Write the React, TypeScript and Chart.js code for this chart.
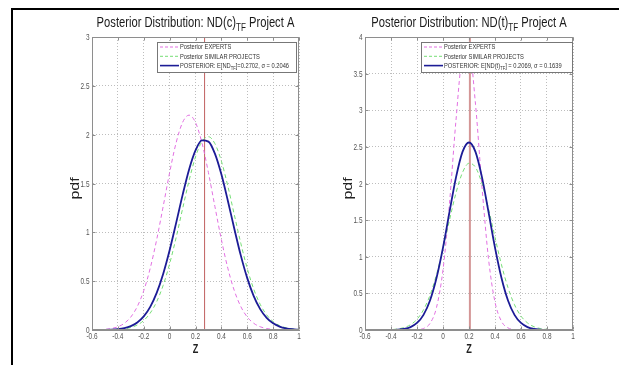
import React, { useEffect, useRef } from "react";
import { Chart, registerables } from "chart.js";

Chart.register(...registerables);

// ---------------- data ----------------
const zGrid = [
  -0.6, -0.55, -0.5, -0.45, -0.4, -0.35, -0.3, -0.25, -0.2, -0.15, -0.1, -0.05, 0,
  0.05, 0.1, 0.15, 0.2, 0.25, 0.3, 0.35, 0.4, 0.45, 0.5, 0.55, 0.6, 0.65, 0.7,
  0.75, 0.8, 0.85, 0.9, 0.95, 1.0,
];

// Panel 1: ND(c)TF
const ndcExperts = [
  0.0009, 0.0025, 0.0063, 0.015, 0.033, 0.069, 0.133, 0.24, 0.403, 0.632, 0.926,
  1.264, 1.611, 1.916, 2.125, 2.2, 2.125, 1.916, 1.611, 1.264, 0.926, 0.632, 0.403,
  0.24, 0.133, 0.069, 0.033, 0.015, 0.0063, 0.0025, 0.0009, 0.0003, 0.0001,
];
const ndcSimilar = [
  0.0001, 0.0003, 0.0008, 0.0021, 0.0052, 0.0118, 0.0253, 0.051, 0.097, 0.173, 0.29,
  0.457, 0.678, 0.945, 1.24, 1.528, 1.772, 1.931, 1.979, 1.908, 1.729, 1.473, 1.18,
  0.889, 0.63, 0.419, 0.263, 0.155, 0.086, 0.045, 0.022, 0.01, 0.0044,
];
const ndcPosterior = [
  0.0002, 0.0006, 0.0016, 0.004, 0.0091, 0.0198, 0.0402, 0.0771, 0.139, 0.237, 0.38,
  0.574, 0.816, 1.094, 1.381, 1.642, 1.839, 1.941, 1.929, 1.806, 1.594, 1.324, 1.037,
  0.764, 0.531, 0.347, 0.214, 0.124, 0.068, 0.035, 0.017, 0.0078, 0.0034,
];
const ndcMean = 0.2702;
const ndcSigma = 0.2046;

// Panel 2: ND(t)TF
const ndtExperts = [
  0, 0, 0, 0, 0, 0, 0.0001, 0.0005, 0.0038, 0.021, 0.09, 0.307, 0.822, 1.731, 2.867,
  3.735, 3.826, 3.082, 1.952, 0.973, 0.381, 0.118, 0.029, 0.0054, 0.0008, 0.0001, 0,
  0, 0, 0, 0, 0, 0,
];
const ndtSimilar = [
  0.0001, 0.0002, 0.0006, 0.0019, 0.0052, 0.0136, 0.033, 0.072, 0.147, 0.275, 0.475,
  0.756, 1.11, 1.501, 1.871, 2.15, 2.276, 2.221, 1.998, 1.656, 1.265, 0.89, 0.578,
  0.345, 0.19, 0.097, 0.045, 0.0195, 0.0078, 0.0028, 0.001, 0.0003, 0.0001,
];
const ndtPosterior = [
  0, 0, 0.0001, 0.0004, 0.0016, 0.0051, 0.015, 0.04, 0.096, 0.207, 0.403, 0.709,
  1.125, 1.612, 2.084, 2.432, 2.56, 2.432, 2.084, 1.612, 1.125, 0.709, 0.403, 0.207,
  0.096, 0.04, 0.015, 0.0051, 0.0016, 0.0004, 0.0001, 0, 0,
];
const ndtMean = 0.2069;
const ndtSigma = 0.1639;

// axes
const zMin = -0.6;
const zMax = 1;
const zStep = 0.2;
const pdfStep = 0.5;
const ndcPdfMax = 3;
const ndtPdfMax = 4;

// texts
const legendExperts = "Posterior EXPERTS";
const legendSimilar = "Posterior SIMILAR PROJECTS";
const xTitle = "Z";
const yTitle = "pdf";

// ---------------- styling ----------------
const FONT = '"Liberation Sans", Arial, Helvetica, sans-serif';
const SX = 0.76; // horizontal squeeze of text (as in the reference)
const C_MAG = "rgb(226,112,226)";
const C_GREEN = "rgb(118,222,118)";
const C_BLUE = "rgb(28,28,150)";
const C_AXIS = "#8e8e8e";
const C_GRID = "#bdbdbd";
const C_TICKTXT = "#555555";

type Seg = { t: string; sub?: boolean };

function drawRich(
  ctx: CanvasRenderingContext2D,
  segs: Seg[],
  x: number,
  y: number,
  size: number,
  align: "left" | "center" | "right",
  color: string,
  sx: number,
  weight = ""
) {
  const mainFont = `${weight} ${size}px ${FONT}`;
  const subFont = `${weight} ${Math.round(size * 0.72 * 10) / 10}px ${FONT}`;
  let total = 0;
  const widths = segs.map((s) => {
    ctx.font = s.sub ? subFont : mainFont;
    const w = ctx.measureText(s.t).width;
    total += w;
    return w;
  });
  let cx = align === "center" ? -total / 2 : align === "right" ? -total : 0;
  ctx.save();
  ctx.translate(x, y);
  ctx.scale(sx, 1);
  ctx.fillStyle = color;
  ctx.textAlign = "left";
  ctx.textBaseline = "alphabetic";
  segs.forEach((s, i) => {
    ctx.font = s.sub ? subFont : mainFont;
    ctx.fillText(s.t, cx, s.sub ? size * 0.32 : 0);
    cx += widths[i];
  });
  ctx.restore();
}

const fmt = (v: number) => String(Math.round(v * 10) / 10);

type PanelSpec = {
  canvasLeft: number;
  canvasWidth: number;
  yAxisWidth: number;
  padRight: number;
  yMax: number;
  experts: number[];
  similar: number[];
  posterior: number[];
  mean: number;
  meanColor: string;
  meanWidth: number;
  title: Seg[];
  posteriorLabel: Seg[];
  legendBox: { x: number; y: number; w: number; h: number };
};

const panels: PanelSpec[] = [
  {
    canvasLeft: 0,
    canvasWidth: 310,
    yAxisWidth: 92,
    padRight: 11,
    yMax: ndcPdfMax,
    experts: ndcExperts,
    similar: ndcSimilar,
    posterior: ndcPosterior,
    mean: ndcMean,
    meanColor: "rgb(192,96,96)",
    meanWidth: 1,
    title: [
      { t: "Posterior Distribution: ND(c)" },
      { t: "TF", sub: true },
      { t: " Project A" },
    ],
    posteriorLabel: [
      { t: "POSTERIOR: E[ND" },
      { t: "TF", sub: true },
      { t: `]=${ndcMean}, \u03c3 = ${ndcSigma}` },
    ],
    legendBox: { x: 157, y: 42, w: 139, h: 30 },
  },
  {
    canvasLeft: 310,
    canvasWidth: 309,
    yAxisWidth: 55,
    padRight: 46,
    yMax: ndtPdfMax,
    experts: ndtExperts,
    similar: ndtSimilar,
    posterior: ndtPosterior,
    mean: ndtMean,
    meanColor: "rgb(212,150,150)",
    meanWidth: 2,
    title: [
      { t: "Posterior Distribution: ND(t)" },
      { t: "TF", sub: true },
      { t: " Project A" },
    ],
    posteriorLabel: [
      { t: "POSTERIOR: E[ND(t)" },
      { t: "TF", sub: true },
      { t: `] = ${ndtMean}, \u03c3 = ${ndtSigma}` },
    ],
    legendBox: { x: 111, y: 42, w: 151, h: 30 },
  },
];

function decorPlugin(spec: PanelSpec) {
  return {
    id: "matlabDecor",
    afterDraw(chart: any) {
      const ctx: CanvasRenderingContext2D = chart.ctx;
      const a = chart.chartArea;
      const xs = chart.scales.x;
      const ys = chart.scales.y;
      const L = Math.round(a.left) + 0.5;
      const R = Math.round(a.right) - 0.5;
      const T = Math.round(a.top) + 0.5;
      const B = Math.round(a.bottom) - 0.5;
      ctx.save();
      // axes box
      ctx.strokeStyle = C_AXIS;
      ctx.lineWidth = 1;
      ctx.setLineDash([]);
      ctx.strokeRect(L, T, R - L, B - T);
      // inward ticks
      ctx.beginPath();
      xs.ticks.forEach((t: any) => {
        const px = Math.round(xs.getPixelForValue(t.value)) + 0.5;
        ctx.moveTo(px, B);
        ctx.lineTo(px, B - 3);
        ctx.moveTo(px, T);
        ctx.lineTo(px, T + 3);
      });
      ys.ticks.forEach((t: any) => {
        const py = Math.round(ys.getPixelForValue(t.value)) + 0.5;
        ctx.moveTo(L, py);
        ctx.lineTo(L + 3, py);
        ctx.moveTo(R, py);
        ctx.lineTo(R - 3, py);
      });
      ctx.stroke();
      // tick labels
      xs.ticks.forEach((t: any) => {
        const px = xs.getPixelForValue(t.value);
        drawRich(ctx, [{ t: fmt(t.value) }], px, B + 9, 8.5, "center", C_TICKTXT, SX);
      });
      ys.ticks.forEach((t: any) => {
        const py = ys.getPixelForValue(t.value);
        drawRich(ctx, [{ t: fmt(t.value) }], L - 3, py + 3, 8.5, "right", C_TICKTXT, SX);
      });
      // title
      const cx = (a.left + a.right) / 2;
      drawRich(ctx, spec.title, cx, 27, 14, "center", "#1a1a1a", 0.8);
      // x title
      drawRich(ctx, [{ t: xTitle }], cx, 353, 12, "center", "#222", SX, "bold");
      // y title (rotated)
      ctx.save();
      ctx.translate(a.left - 13, (a.top + a.bottom) / 2 + 5);
      ctx.scale(SX, 1);
      ctx.rotate(-Math.PI / 2);
      ctx.font = `16px ${FONT}`;
      ctx.fillStyle = "#222";
      ctx.textAlign = "center";
      ctx.textBaseline = "alphabetic";
      ctx.fillText(yTitle, 0, 0);
      ctx.restore();
      // legend
      const lb = spec.legendBox;
      ctx.fillStyle = "#ffffff";
      ctx.fillRect(lb.x, lb.y, lb.w, lb.h);
      ctx.strokeStyle = "#777";
      ctx.lineWidth = 1;
      ctx.strokeRect(lb.x + 0.5, lb.y + 0.5, lb.w, lb.h);
      const rows: { segs: Seg[]; color: string; dash: number[]; w: number }[] = [
        { segs: [{ t: legendExperts }], color: C_MAG, dash: [3, 2], w: 1 },
        { segs: [{ t: legendSimilar }], color: C_GREEN, dash: [3, 2], w: 1 },
        { segs: spec.posteriorLabel, color: C_BLUE, dash: [], w: 1.6 },
      ];
      rows.forEach((r, i) => {
        const ry = lb.y + 5 + i * 9.3;
        ctx.save();
        ctx.strokeStyle = r.color;
        ctx.lineWidth = r.w;
        ctx.setLineDash(r.dash);
        ctx.beginPath();
        ctx.moveTo(lb.x + 3, ry);
        ctx.lineTo(lb.x + 22, ry);
        ctx.stroke();
        ctx.restore();
        drawRich(ctx, r.segs, lb.x + 23, ry + 2.4, 7, "left", "#333", 0.82);
      });
      ctx.restore();
    },
  };
}

function buildConfig(spec: PanelSpec): any {
  const pts = (arr: number[]) => zGrid.map((z, i) => ({ x: z, y: arr[i] }));
  const gridOpts = { color: C_GRID, lineWidth: 1, drawTicks: false };
  const borderOpts = { display: true, color: C_AXIS, dash: [1, 2] };
  return {
    type: "line",
    data: {
      datasets: [
        {
          label: "POSTERIOR",
          data: pts(spec.posterior),
          borderColor: C_BLUE,
          borderWidth: 1.8,
          pointRadius: 0,
          cubicInterpolationMode: "monotone",
          fill: false,
          order: 0,
        },
        {
          label: legendSimilar,
          data: pts(spec.similar),
          borderColor: C_GREEN,
          borderWidth: 1,
          borderDash: [4, 3],
          pointRadius: 0,
          cubicInterpolationMode: "monotone",
          fill: false,
          order: 1,
        },
        {
          label: legendExperts,
          data: pts(spec.experts),
          borderColor: C_MAG,
          borderWidth: 1,
          borderDash: [4, 3],
          pointRadius: 0,
          cubicInterpolationMode: "monotone",
          fill: false,
          order: 2,
        },
        {
          label: "mean",
          data: [
            { x: spec.mean, y: 0 },
            { x: spec.mean, y: spec.yMax },
          ],
          borderColor: spec.meanColor,
          borderWidth: spec.meanWidth,
          pointRadius: 0,
          fill: false,
          order: 3,
        },
      ],
    },
    options: {
      responsive: false,
      animation: false,
      devicePixelRatio: 1,
      events: [],
      layout: { padding: { left: 0, right: spec.padRight, top: 37, bottom: 0 } },
      plugins: {
        legend: { display: false },
        tooltip: { enabled: false },
        title: { display: false },
      },
      scales: {
        x: {
          type: "linear",
          min: zMin,
          max: zMax,
          ticks: { stepSize: zStep, display: false },
          grid: gridOpts,
          border: borderOpts,
          afterFit: (s: any) => {
            s.height = 35;
          },
        },
        y: {
          type: "linear",
          min: 0,
          max: spec.yMax,
          ticks: { stepSize: pdfStep, display: false },
          grid: gridOpts,
          border: borderOpts,
          afterFit: (s: any) => {
            s.width = spec.yAxisWidth;
          },
        },
      },
    },
    plugins: [decorPlugin(spec)],
  };
}

function Panel({ spec }: { spec: PanelSpec }) {
  const ref = useRef<HTMLCanvasElement>(null);
  useEffect(() => {
    const chart = new Chart(ref.current as HTMLCanvasElement, buildConfig(spec));
    return () => chart.destroy();
  }, [spec]);
  return (
    <canvas
      ref={ref}
      width={spec.canvasWidth}
      height={365}
      style={{
        position: "absolute",
        left: spec.canvasLeft,
        top: 0,
        width: spec.canvasWidth,
        height: 365,
      }}
    />
  );
}

export default function App() {
  return (
    <div
      style={{
        position: "fixed",
        left: 0,
        top: 0,
        width: 619,
        height: 365,
        background: "#ffffff",
        overflow: "hidden",
      }}
    >
      <div
        style={{
          position: "absolute",
          left: 11,
          top: 8,
          width: 700,
          height: 500,
          borderTop: "2px solid #000",
          borderLeft: "2px solid #000",
        }}
      />
      {panels.map((p, i) => (
        <Panel key={i} spec={p} />
      ))}
    </div>
  );
}
